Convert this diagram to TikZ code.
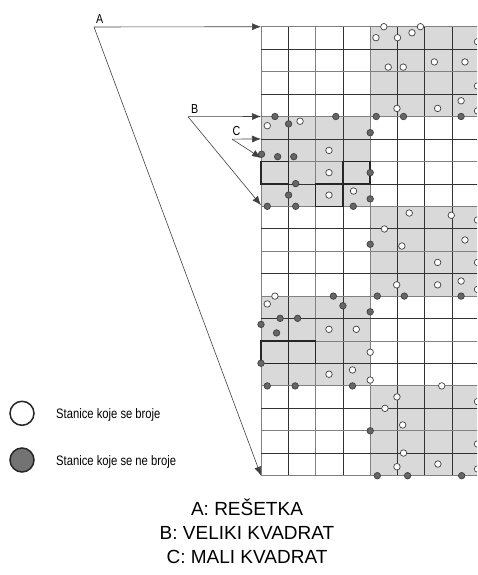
\documentclass[tikz,border=0pt]{standalone}
\usepackage{fontspec}
\setmainfont{Liberation Sans}
\newfontfamily\narrowfont[FakeStretch=0.82]{Liberation Sans}
\usetikzlibrary{arrows.meta}

\begin{document}
\begin{tikzpicture}[x=1pt, y=-1pt, >={Latex[length=9pt,width=7pt]},
		counted/.style={circle, draw=black!75, fill=white, line width=0.7pt, inner sep=0pt, minimum size=6.5pt},
		notcounted/.style={circle, draw=black!75, fill=black!60, line width=0.7pt, inner sep=0pt, minimum size=6.5pt},
		griddark/.style={draw=black!80, line width=0.7pt},
		gridlight/.style={draw=black!50, line width=0.9pt},
		smallsq/.style={draw=black!85, line width=1.6pt},
		pointer/.style={->, draw=black!75, line width=0.6pt},
		letter/.style={font=\narrowfont\fontsize{13}{13}\selectfont, inner sep=0.5pt, anchor=south west}]
		\clip (0,0) rectangle (477,575);
		\begin{scope}[shift={(261pt,-26.7pt)}, x=27.3pt, y=-22.45pt]
				\foreach \c/\r in {4/0, 0/4, 4/8, 0/12, 4/16}
				\fill[black!15] (\c,\r) rectangle ++(4,4);
				\foreach \c in {1,3,5,6,7} \draw[griddark] (\c,0) -- (\c,20);
				\foreach \c in {0,2,4} \draw[gridlight] (\c,0) -- (\c,20);
				\foreach \r in {1,3,...,19} \draw[griddark] (0,\r) -- (8,\r);
				\foreach \r in {0,2,...,20} \draw[gridlight] (0,\r) -- (8,\r);
				\foreach \c/\r in {0/6, 3/6, 2/7, 0/14, 1/14}
				\draw[smallsq] (\c,\r) rectangle ++(1,1);
				\foreach \u/\v [count=\i] in {4.5/0, 4.21/0.49, 5/0.49, 5.53/0.27, 5.84/0, 7.93/0.67, 4.66/1.8, 5.21/1.8,
						6.35/1.57, 7.47/1.57, 7.93/2.64, 7.33/3.3, 7.93/3.75, 4.98/3.64, 6.47/3.64, 1.43/4.21, 0.23/4.41,
						2.49/5.51, 2.49/6.5, 2.49/7.5, 3.39/7.32, 5.43/8.3, 6.97/8.4, 7.93/8.61, 4.52/9.01, 7.47/9.5,
						5.16/9.77, 6.47/10.5, 7.93/10.5, 4.97/11.5, 6.47/11.5, 7.33/11.33, 7.93/11.7, 0.51/12, 0.23/12.35,
						2.49/13.48, 3.49/13.48, 4/14.5, 2.49/15.48, 3.35/15.29, 4/15.74, 6.62/16, 4.98/16.49, 4.54/17,
						5.19/17.74, 5.22/18.99, 4.98/19.6, 6.48/19.48, 7.93/16.7, 7.93/18.59, 7.93/19.7}
				\node[counted] (w\i) at (\u,\v) {};
				\foreach \u/\v [count=\i] in {0.51/4, 2.74/4, 4.22/4, 5.22/4, 7.33/4, 1.01/4.33, 4/4.72, 0.02/5.68,
						0.61/5.79, 1.2/5.79, 4/6.5, 1.27/6.99, 1.01/7.5, 4/7.67, 0.23/8, 1.27/8, 3.38/8, 4/9.69,
						4.26/12, 5.25/12, 7.33/12, 2.65/12, 3/12.43, 4/12.7, 0.7/12.99, 1.34/12.99, 0/13.26, 0.57/13.64,
						0/14.99, 0.23/16, 1.25/16, 3.35/16, 4/18, 4.26/20, 5.37/20, 7.35/20}
				\node[notcounted] (g\i) at (\u,\v) {};
				\coordinate (gridtop) at (0,0);
				\coordinate (gridbot) at (0,20);
				\coordinate (bigtop) at (0,4);
				\coordinate (bigbot) at (0,7.95);
				\coordinate (smalltop) at (0,5);
				\coordinate (smallbot) at (0,5.85);
			\end{scope}
		\coordinate (pA) at (94,27);
		\coordinate (pB) at (188,116.7);
		\coordinate (pC) at (232,139.1);
		\node[letter] (labA) at ([xshift=1.5pt,yshift=2.5pt]pA) {A};
		\node[letter] (labB) at ([xshift=2.5pt,yshift=2.5pt]pB) {B};
		\node[letter] (labC) at ([xshift=0pt,yshift=2.5pt]pC) {C};
		\draw[pointer] (pA) -- (gridtop);
		\draw[pointer] (pA) -- (gridbot);
		\draw[pointer] (pB) -- (bigtop);
		\draw[pointer] (pB) -- (bigbot);
		\draw[pointer] (pC) -- (smalltop);
		\draw[pointer] (pC) -- (smallbot);
		\node[circle, draw=black!85, fill=white, line width=1.5pt, minimum size=24pt, inner sep=0pt] (legw) at (22,413.3) {};
		\node[circle, draw=black!85, fill=black!55, line width=1.5pt, minimum size=24pt, inner sep=0pt] (legg) at (22,460) {};
		\node[anchor=base west, inner sep=0pt, font=\narrowfont\fontsize{13.7}{13.7}\selectfont] (txtw) at (56,418.5) {Stanice koje se broje};
		\node[anchor=base west, inner sep=0pt, font=\narrowfont\fontsize{13.7}{13.7}\selectfont] (txtg) at (56,465) {Stanice koje se ne broje};
		\node[anchor=base, align=center, inner sep=0pt, font=\fontsize{19}{24}\selectfont] (key) at (247,563)
		{A: REŠETKA\\B: VELIKI KVADRAT\\C: MALI KVADRAT};
	\end{tikzpicture}
\end{document}
